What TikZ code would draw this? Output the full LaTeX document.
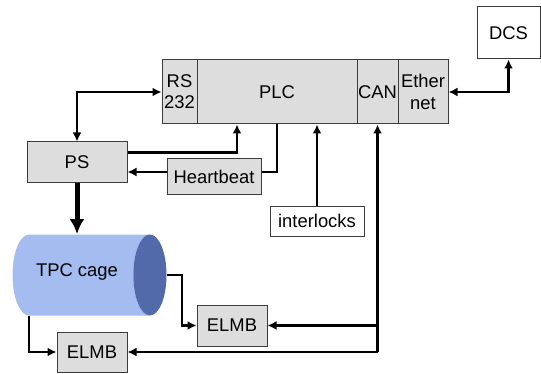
\documentclass[tikz,border=0pt]{standalone}
\usepackage{fontspec}
\setmainfont{Liberation Sans}
\usetikzlibrary{
    shapes.geometric,
    arrows.meta,
    positioning,
    calc
}
\definecolor{boxgray}{RGB}{221, 221, 221}
\definecolor{edgegray}{RGB}{60, 60, 60}
\definecolor{cagelight}{RGB}{164, 188, 240}
\definecolor{cagedark}{RGB}{82, 106, 170}

\begin{document}
\begin{tikzpicture}[
        x=0.5pt, y=-0.5pt,
        box/.style={rectangle, draw=edgegray, line width=0.5pt, fill=boxgray, inner sep=0pt, align=center,
            font=\fontsize{9.2}{10.6}\selectfont},
        link/.style={line width=1.25pt, -{Latex[length=4.5pt,width=4.5pt]}},
        duplex/.style={line width=1.25pt, {Latex[length=4.5pt,width=4.5pt]}-{Latex[length=4.5pt,width=4.5pt]}},
        feed/.style={line width=2.5pt, -{Latex[length=7.5pt,width=7.5pt]}}
    ]
        \useasboundingbox (0,0) rectangle (541,374);

        % Row 1: controller with its ports, and DCS
        \node[box, minimum width=17.5pt, minimum height=32pt] (rs) at (179.5,92) {RS\\232};
        \node[box, minimum width=80pt, minimum height=32pt] (plc) at (277,92) {PLC};
        \node[box, minimum width=20.5pt, minimum height=32pt] (can) at (377.5,92) {CAN};
        \node[box, minimum width=25pt, minimum height=32pt] (eth) at (423,92) {Ether\\net};
        \node[box, fill=white, minimum width=31.5pt, minimum height=26pt] (dcs) at (508.5,33) {DCS};

        % Row 2: power supply, heartbeat, interlocks
        \node[box, minimum width=50pt, minimum height=20.5pt] (ps) at (77,162.5) {PS};
        \node[box, minimum width=47pt, minimum height=17.5pt] (hb) at (214,176.5) {Heartbeat};
        \node[box, fill=white, minimum width=47pt, minimum height=15pt] (il) at (317,221) {interlocks};

        % Row 3: field cage and the two ELMBs
        \node[cylinder, shape aspect=0.41, minimum width=40.5pt, minimum height=77pt,
            inner xsep=0pt, inner ysep=0pt, text height=20.25pt, text depth=20.25pt,
            cylinder uses custom fill, cylinder body fill=cagelight, cylinder end fill=cagedark,
            font=\fontsize{9.2}{10.6}\selectfont] (tpc) at (81,275) {\raisebox{-0.5pt}{TPC cage}\hspace*{4pt}};
        \node[box, minimum width=35pt, minimum height=20.5pt] (elmb1) at (232,325.5) {ELMB};
        \node[box, minimum width=35pt, minimum height=20pt] (elmb2) at (92,352) {ELMB};

        % Arrows
        \draw[duplex] (rs.west) -| (ps.north);
        \draw[duplex] (eth.east) -| (dcs.south);
        \draw[link] ([yshift=5pt]ps.east) -| ([xshift=-20pt]plc.south);
        \draw[line width=1.25pt] (plc.south) |- ([yshift=2.25pt]hb.east);
        \draw[link] ([yshift=2.25pt]hb.west) -- ([yshift=2.25pt]hb.west -| ps.east);
        \draw[link] (il.north) -- (il.north |- plc.south);
        \draw[feed] (ps.south) -- (ps.south |- tpc.north);
        \draw[link] (tpc.east) -- ++(7.5pt,0) |- (elmb1.west);
        \draw[link] (tpc.south -| 29,0) |- (elmb2.west);
        \draw[link] (elmb2.east -| can.south) -- (can.south);
        \draw[link] (elmb1.east -| can.south) -- (elmb1.east);
        \draw[link] (elmb2.east -| can.south) -- (elmb2.east);
    \end{tikzpicture}
\end{document}
